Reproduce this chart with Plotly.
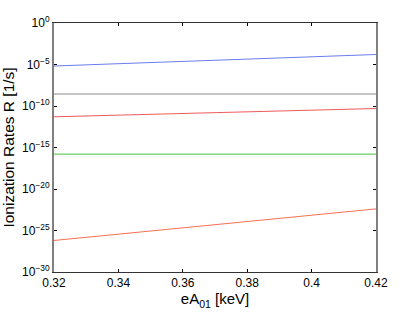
import plotly.graph_objects as go

x_vals = [0.32, 0.42]
blue_rate = [6.6e-6, 1.6e-4]
gray_rate = [2.8e-9, 2.8e-9]
red_rate = [5.0e-12, 5.0e-11]
green_rate = [1.6e-16, 1.6e-16]
orange_rate = [6.3e-27, 4.0e-23]

y_ticks = [1e0, 1e-5, 1e-10, 1e-15, 1e-20, 1e-25, 1e-30]
y_tick_text = ["10<sup>0</sup>", "10<sup>−5</sup>", "10<sup>−10</sup>", "10<sup>−15</sup>",
               "10<sup>−20</sup>", "10<sup>−25</sup>", "10<sup>−30</sup>"]
x_ticks = [0.32, 0.34, 0.36, 0.38, 0.4, 0.42]
x_tick_text = ["0.32", "0.34", "0.36", "0.38", "0.4", "0.42"]

series = [
    (blue_rate, "#6a7df0"),
    (gray_rate, "#8c8c8c"),
    (red_rate, "#f05a5a"),
    (green_rate, "#4cc03c"),
    (orange_rate, "#f87050"),
]

fig = go.Figure()
for vals, col in series:
    fig.add_trace(go.Scatter(x=x_vals, y=vals, mode="lines",
                             line=dict(color=col, width=1), showlegend=False))

font = "Liberation Sans, Arial, sans-serif"
fig.update_layout(
    width=415, height=313,
    margin=dict(l=54, r=39, t=23, b=41),
    paper_bgcolor="white", plot_bgcolor="white",
    font=dict(family=font, color="black", size=12),
    xaxis=dict(range=[0.32, 0.42], tickvals=x_ticks, ticktext=x_tick_text,
               ticks="inside", ticklen=3, tickcolor="black", mirror="ticks",
               showline=True, linecolor="#333333", linewidth=1, showgrid=False,
               zeroline=False, automargin=False,
               title=dict(text="eA<sub>01</sub> [keV]", font=dict(size=15), standoff=3)),
    yaxis=dict(type="log", range=[-30, 0], tickvals=y_ticks, ticktext=y_tick_text,
               ticks="inside", ticklen=3, tickcolor="black", mirror="ticks",
               showline=True, linecolor="#808080", linewidth=2, showgrid=False,
               zeroline=False, automargin=False,
               title=dict(text="Ionization Rates R [1/s]", font=dict(size=15.5), standoff=4)),
)
fig.write_html("out.html", config={"displayModeBar": False},
               post_script="document.body.style.margin='0';document.body.style.overflow='hidden';")
